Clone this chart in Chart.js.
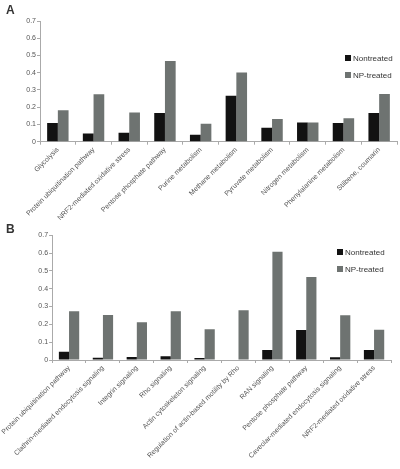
<!DOCTYPE html>
<html>
<head>
<meta charset="utf-8">
<script src="https://cdn.jsdelivr.net/npm/chart.js@4/dist/chart.umd.min.js"></script>
<style>
  html, body { margin:0; padding:0; background:#fff; }
  body { width:400px; height:469px; position:relative; overflow:hidden; font-family:"Liberation Sans", Arial, sans-serif; }
  canvas { position:absolute; left:0; }
  #cA { top:0; }
  #cB { top:228px; }
  .panel { position:absolute; font-weight:bold; font-size:12px; color:#333; }
  .leg { position:absolute; font-size:8px; color:#333; white-space:nowrap; line-height:8px; }
  .sw { display:inline-block; width:6px; height:6px; margin-right:2px; vertical-align:0px; }
</style>
</head>
<body>
<canvas id="cA" width="400" height="228"></canvas>
<canvas id="cB" width="400" height="241"></canvas>
<div class="panel" style="left:6px;top:3px;">A</div>
<div class="panel" style="left:6px;top:222px;">B</div>
<div class="leg" style="left:345px;top:55px;"><span class="sw" style="background:#121212"></span>Nontreated</div>
<div class="leg" style="left:345px;top:72px;"><span class="sw" style="background:#6e7371"></span>NP-treated</div>
<div class="leg" style="left:337px;top:249px;"><span class="sw" style="background:#121212"></span>Nontreated</div>
<div class="leg" style="left:337px;top:266px;"><span class="sw" style="background:#6e7371"></span>NP-treated</div>
<script>
const categoriesA = ["Glycolysis","Protein ubiquitination pathway","NRF2-mediated oxidative stress","Pentose phosphate pathway","Purine metabolism","Methane metabolism","Pyruvate metabolism","Nitrogen metabolism","Phenylalanine metabolism","Stilbene, coumarin"];
const nontreatedA = [0.108,0.048,0.052,0.166,0.040,0.267,0.081,0.112,0.108,0.166];
const npTreatedA  = [0.183,0.275,0.170,0.468,0.104,0.402,0.132,0.112,0.136,0.277];

const categoriesB = ["Protein ubiquitination pathway","Clathrin-mediated endocytosis signaling","Integrin signaling","Rho signaling","Actin cytoskeleton signaling","Regulation of actin-based motility by Rho","RAN signaling","Pentose phosphate pathway","Caveolar-mediated endocytosis signaling","NRF2-mediated oxidative stress"];
const nontreatedB = [0.047,0.013,0.017,0.021,0.011,0.000,0.056,0.168,0.015,0.056];
const npTreatedB  = [0.274,0.253,0.212,0.274,0.172,0.279,0.608,0.466,0.251,0.170];

const seriesNames = ["Nontreated","NP-treated"];
const yTicksMax = 0.7;

function makeChart(id, cats, n, np, padTop, padRight, xHeight) {
  return new Chart(document.getElementById(id), {
    type: 'bar',
    data: {
      labels: cats,
      datasets: [
        { label: seriesNames[0], data: n, backgroundColor: '#121212', categoryPercentage: 0.6, barPercentage: 1.0 },
        { label: seriesNames[1], data: np, backgroundColor: '#6e7371', categoryPercentage: 0.6, barPercentage: 1.0 }
      ]
    },
    options: {
      responsive: false,
      devicePixelRatio: 1,
      animation: false,
      layout: { padding: { top: padTop, right: padRight, left: 0, bottom: 0 } },
      plugins: { legend: { display: false }, tooltip: { enabled: false } },
      scales: {
        x: {
          offset: true,
          grid: { display: true, offset: true, drawOnChartArea: false, drawTicks: true, tickLength: 3, color: '#aaa' },
          border: { color: '#aaa' },
          ticks: { autoSkip: false, minRotation: 45, maxRotation: 45, color: '#555', padding: 1,
                   font: { family: 'Liberation Sans', size: 7 } },
          afterFit: s => { s.height = xHeight; }
        },
        y: {
          min: 0, max: yTicksMax,
          grid: { display: true, drawOnChartArea: false, drawTicks: true, tickLength: 3, color: '#aaa' },
          border: { color: '#aaa' },
          ticks: { stepSize: 0.1, color: '#555', padding: 1, font: { family: 'Liberation Sans', size: 7 } },
          afterFit: s => { s.width = 40; }
        }
      }
    }
  });
}

makeChart('cA', categoriesA, nontreatedA, npTreatedA, 21, 3, 228 - 141.7);
makeChart('cB', categoriesB, nontreatedB, npTreatedB, 7.3, 9, 241 - 132);
</script>
</body>
</html>
